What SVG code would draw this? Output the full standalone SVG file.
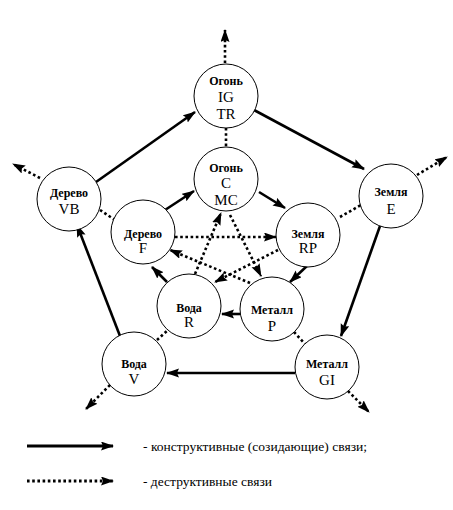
<svg xmlns="http://www.w3.org/2000/svg" width="453" height="510" viewBox="0 0 453 510">
<defs>
<marker id="ah" markerUnits="userSpaceOnUse" markerWidth="14" markerHeight="10" refX="12" refY="4.5" orient="auto">
<path d="M0,0 L13,4.5 L0,9 L2,4.5 z" fill="#000"/>
</marker>
<style>
.nd circle{fill:#fff;stroke:#000;stroke-width:1}
.lb{font-family:"Liberation Serif","DejaVu Serif",serif;font-weight:bold;font-size:12px;text-anchor:middle;fill:#000}
.cd{font-family:"Liberation Serif","DejaVu Serif",serif;font-size:15px;text-anchor:middle;fill:#000}
.s{stroke:#000;stroke-width:2.6;fill:none}
.d{stroke:#000;stroke-width:2.6;stroke-dasharray:2.6 2.6;fill:none}
.a{marker-end:url(#ah)}
.lg{font-family:"Liberation Serif","DejaVu Serif",serif;font-size:12px;fill:#000}
</style>
</defs>
<rect width="453" height="510" fill="#fff"/>
<g id="connectors">
<line class="s a" x1="96" y1="182" x2="195" y2="112"/>
<line class="s a" x1="254" y1="110" x2="364" y2="169"/>
<line class="s a" x1="380" y1="226" x2="341" y2="336"/>
<line class="s a" x1="295" y1="373" x2="167" y2="373"/>
<line class="s a" x1="120" y1="336" x2="77" y2="225"/>
<line class="s a" x1="165" y1="210" x2="194" y2="191"/>
<line class="s a" x1="259" y1="192" x2="285" y2="208"/>
<line class="s a" x1="308" y1="265" x2="290" y2="282"/>
<line class="s a" x1="240" y1="314" x2="222" y2="314"/>
<line class="s a" x1="167" y1="282" x2="152" y2="267"/>
<line class="d a" x1="225" y1="63" x2="225" y2="30"/>
<line class="d a" x1="40" y1="178" x2="13" y2="164"/>
<line class="d a" x1="417" y1="175" x2="447" y2="157"/>
<line class="d a" x1="110" y1="385" x2="86" y2="409"/>
<line class="d a" x1="348" y1="391" x2="369" y2="412"/>
<line class="d" x1="226" y1="128" x2="226" y2="147"/>
<line class="d" x1="100" y1="210" x2="115" y2="220"/>
<line class="d" x1="340" y1="217" x2="361" y2="205"/>
<line class="d" x1="157" y1="340" x2="168" y2="330"/>
<line class="d" x1="294" y1="332" x2="305" y2="344"/>
<line class="d a" x1="175" y1="237" x2="276" y2="237"/>
<line class="d a" x1="195" y1="274" x2="221" y2="213"/>
<line class="d a" x1="230" y1="215" x2="261" y2="276"/>
<line class="d a" x1="278" y1="250" x2="215" y2="282"/>
<line class="d a" x1="250" y1="283" x2="170" y2="250"/>
</g>
<g id="n-IG" class="nd"><circle cx="226" cy="96" r="32"/><text class="lb" x="226" y="85">Огонь</text><text class="cd" x="226" y="102">IG</text><text class="cd" x="226" y="119">TR</text></g>
<g id="n-C" class="nd"><circle cx="226" cy="179" r="32"/><text class="lb" x="226" y="172">Огонь</text><text class="cd" x="226" y="188">C</text><text class="cd" x="226" y="205">MC</text></g>
<g id="n-VB" class="nd"><circle cx="69" cy="199" r="32"/><text class="lb" x="69" y="197">Дерево</text><text class="cd" x="69" y="214">VB</text></g>
<g id="n-E" class="nd"><circle cx="391" cy="196" r="32"/><text class="lb" x="391" y="196">Земля</text><text class="cd" x="391" y="214">E</text></g>
<g id="n-F" class="nd"><circle cx="143" cy="232" r="32"/><text class="lb" x="143" y="238">Дерево</text><text class="cd" x="143" y="253">F</text></g>
<g id="n-RP" class="nd"><circle cx="308" cy="235" r="32"/><text class="lb" x="308" y="238">Земля</text><text class="cd" x="308" y="253">RP</text></g>
<g id="n-R" class="nd"><circle cx="189" cy="306" r="32"/><text class="lb" x="189" y="312">Вода</text><text class="cd" x="189" y="327">R</text></g>
<g id="n-P" class="nd"><circle cx="272" cy="309" r="32"/><text class="lb" x="272" y="314">Металл</text><text class="cd" x="272" y="331">P</text></g>
<g id="n-V" class="nd"><circle cx="134" cy="364" r="32"/><text class="lb" x="134" y="368">Вода</text><text class="cd" x="134" y="384">V</text></g>
<g id="n-GI" class="nd"><circle cx="327" cy="367" r="32"/><text class="lb" x="327" y="368">Металл</text><text class="cd" x="327" y="385">GI</text></g>
<g id="legend">
<line class="s a" x1="27" y1="446" x2="113" y2="446" style="stroke-width:3"/>
<line class="d a" x1="27" y1="481" x2="113" y2="481" style="stroke-width:3"/>
<text class="lg" x="143" y="451" textLength="224" lengthAdjust="spacingAndGlyphs">- конструктивные (созидающие) связи;</text>
<text class="lg" x="143" y="486" textLength="129" lengthAdjust="spacingAndGlyphs">- деструктивные связи</text>
</g>
</svg>
